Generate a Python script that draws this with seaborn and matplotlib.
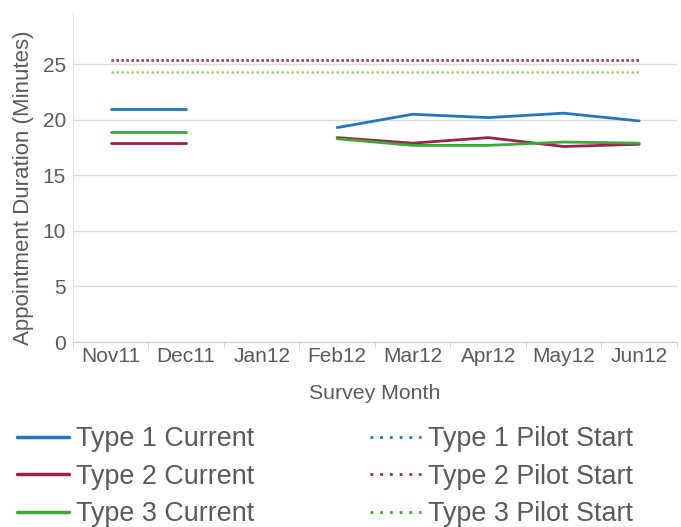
import matplotlib
matplotlib.use("Agg")
import matplotlib.pyplot as plt
import seaborn as sns
import numpy as np
import pandas as pd

# data
months = ["Nov11", "Dec11", "Jan12", "Feb12", "Mar12", "Apr12", "May12", "Jun12"]
type1_current = [21.0, 21.0, np.nan, 19.3, 20.5, 20.2, 20.6, 19.9]
type2_current = [17.9, 17.9, np.nan, 18.4, 17.9, 18.4, 17.6, 17.8]
type3_current = [18.9, 18.9, np.nan, 18.3, 17.7, 17.7, 18.0, 17.9]
pilot_start = [25.4, 25.4, 24.3]  # Type 1, Type 2, Type 3

types = ["Type 1", "Type 2", "Type 3"]
colors = ["#1f78c1", "#9b2248", "#3aaa35"]
dot_colors = ["#5a8fd0", "#b8405f", "#9ad47a"]

sns.set_style("white")
plt.rcParams['font.family'] = ['Liberation Sans', 'DejaVu Sans']
grey = "#5a5a5a"

fig = plt.figure(figsize=(6.81, 5.27), dpi=100)
ax = fig.add_axes([0.107, 0.351, 0.887, 0.624])

x = np.arange(len(months))

# build long table, split at missing months into segments
rows = []
for t, vals in zip(types, [type1_current, type2_current, type3_current]):
    seg = 0
    for xi, v in zip(x, vals):
        if np.isnan(v):
            seg += 1
            continue
        rows.append({"x": xi, "y": v, "series": t + " Current", "seg": seg})
df = pd.DataFrame(rows)

# pilot start: flat lines from first to last month
prow = []
for t, v in zip(types, pilot_start):
    for xi in x:
        prow.append({"x": xi, "y": v, "series": t + " Pilot Start"})
pdf = pd.DataFrame(prow)

for t, c in zip(types, dot_colors):
    sns.lineplot(data=pdf[pdf.series == t + " Pilot Start"], x="x", y="y",
                 color=c, lw=1.8, ls=(0, (1, 1)), ax=ax, legend=False)

for t, c in zip(types, colors):
    sub = df[df.series == t + " Current"]
    sns.lineplot(data=sub, x="x", y="y", units="seg", estimator=None,
                 color=c, lw=2, ax=ax, legend=False)

ax.set_xlim(-0.5, 7.5)
ax.set_ylim(0, 29.6)
ax.set_yticks([0, 5, 10, 15, 20, 25])
ax.set_xticks(x)
ax.set_xticklabels(months)
ax.set_xticks(np.arange(-0.5, 8, 1), minor=True)
ax.tick_params(axis="x", which="major", length=0, pad=3.5, labelsize=15, colors=grey)
ax.tick_params(axis="x", which="minor", length=4, color="#cccccc", bottom=True)
ax.tick_params(axis="y", length=0, pad=5, labelsize=15, colors=grey)
ax.yaxis.grid(True, color="#dcdcdc", lw=1)
ax.set_axisbelow(True)

for s in ["top", "right"]:
    ax.spines[s].set_visible(False)
ax.spines["left"].set_color("#e3e3e3")
ax.spines["bottom"].set_color("#d0d0d0")

ax.set_xlabel("Survey Month", fontsize=15.3, color=grey, labelpad=13)
ax.set_ylabel("Appointment Duration (Minutes)", fontsize=16, color=grey)
ax.yaxis.set_label_coords(-0.064, 0.47)

# legend built from the same colours
handles = []
labels = []
for t, c in zip(types, colors):
    handles.append(plt.Line2D([], [], color=c, lw=2.5))
    labels.append(t + " Current")
for t, c in zip(types, colors):
    handles.append(plt.Line2D([], [], color=c, lw=2, ls=(0, (1, 2.5))))
    labels.append(t + " Pilot Start")

leg = fig.legend(handles, labels, ncol=2, loc="upper left",
                 bbox_to_anchor=(-0.01, 0.237), frameon=False, fontsize=19.4,
                 handlelength=1.9, handletextpad=0.27, columnspacing=4.3,
                 labelspacing=0.42, labelcolor=grey)

fig.savefig("out.png", dpi=100)
